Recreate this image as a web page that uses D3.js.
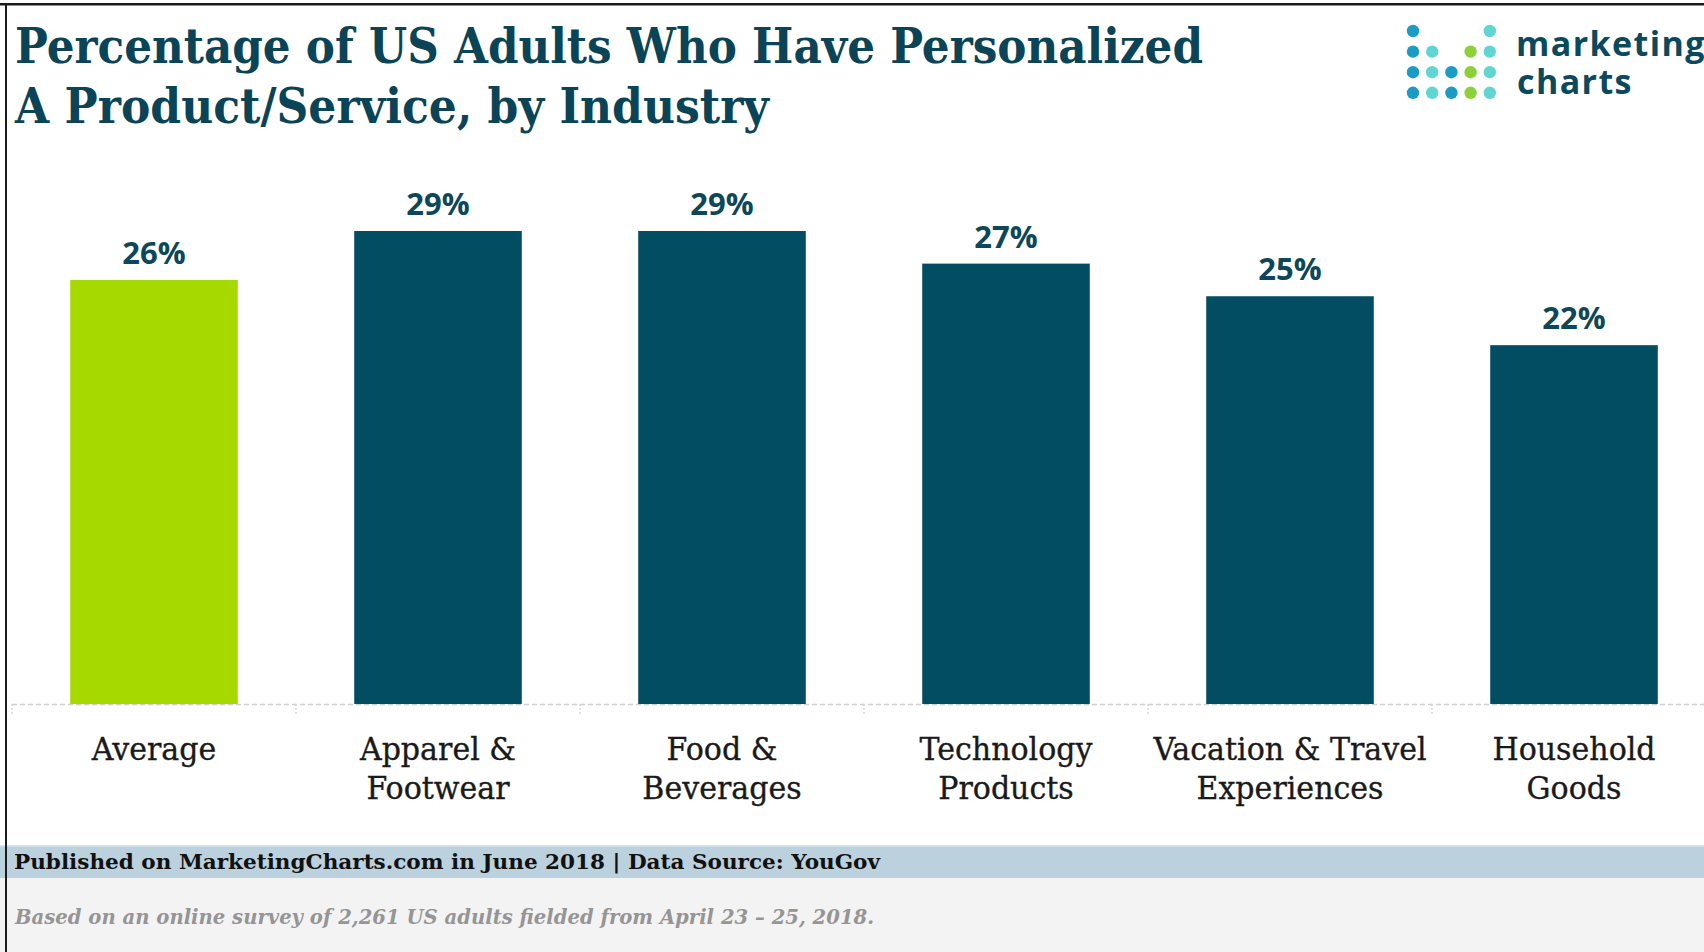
<!DOCTYPE html>
<html>
<head>
<meta charset="utf-8">
<script src="https://cdn.jsdelivr.net/npm/d3@7"></script>
<style>
  html, body { margin: 0; padding: 0; background: #fff; }
  svg { display: block; }
</style>
</head>
<body>
<svg id="chart" width="1704" height="952"></svg>
<script>
// ---- data ----
const categories = ["Average", "Apparel & Footwear", "Food & Beverages",
  "Technology Products", "Vacation & Travel Experiences", "Household Goods"];
const labelLines = [["Average"], ["Apparel &", "Footwear"], ["Food &", "Beverages"],
  ["Technology", "Products"], ["Vacation & Travel", "Experiences"], ["Household", "Goods"]];
const values = [26, 29, 29, 27, 25, 22];
const valueLabels = ["26%", "29%", "29%", "27%", "25%", "22%"];
const titleLines = ["Percentage of US Adults Who Have Personalized", "A Product/Service, by Industry"];
const sourceNote = "Published on MarketingCharts.com in June 2018 | Data Source: YouGov";
const surveyNote = "Based on an online survey of 2,261 US adults fielded from April 23 \u2013 25, 2018.";
const logoWords = ["marketing", "charts"];
const logoDots = ["b...t", "bt.gt", "btbgt", "btbgt"];

// ---- layout ----
const W = 1704, H = 952;
const baseY = 704;
const svg = d3.select("#chart");

const x = d3.scaleBand()
  .domain(categories)
  .range([12, 1716])
  .paddingInner(0.41)
  .paddingOuter(0.205);

const y = d3.scaleLinear()
  .domain([0, 29])
  .range([baseY, 231]);

const rows = categories.map((c, i) => ({
  cat: c, value: values[i], label: valueLabels[i], lines: labelLines[i], avg: i === 0
}));

// footer panels
svg.append("rect").attr("x", 0).attr("y", 846).attr("width", W).attr("height", 32).attr("fill", "#bcd1de");
svg.append("rect").attr("x", 0).attr("y", 845).attr("width", W).attr("height", 1.5).attr("fill", "#dbe6ee");
svg.append("rect").attr("x", 0).attr("y", 878).attr("width", W).attr("height", H - 878).attr("fill", "#f3f3f3");

// title
const title = svg.append("g")
  .attr("font-family", "'DejaVu Serif', serif")
  .attr("font-weight", "bold")
  .attr("font-size", 49)
  .attr("fill", "#0b4456");
const titleWidths = [1188, 754];
const titleBase = [63, 123];
titleLines.forEach((t, i) => {
  title.append("text")
    .attr("x", 15).attr("y", titleBase[i])
    .attr("textLength", titleWidths[i])
    .attr("lengthAdjust", "spacingAndGlyphs")
    .text(t);
});

// logo
const dotColor = { b: "#1a9cc4", t: "#5fd6d2", g: "#8dd13a" };
const logo = svg.append("g");
logoDots.forEach((row, r) => {
  row.split("").forEach((ch, c) => {
    if (ch === ".") return;
    logo.append("circle")
      .attr("cx", 1413 + c * 19.2)
      .attr("cy", 31 + r * 20.6)
      .attr("r", 6.2)
      .attr("fill", dotColor[ch]);
  });
});
const logoText = logo.append("g")
  .attr("font-family", "'Open Sans', sans-serif")
  .attr("font-weight", 700)
  .attr("font-size", 34)
  .attr("fill", "#0b4a5c");
logoText.append("text").attr("x", 1516).attr("y", 56).attr("letter-spacing", 1.4).text(logoWords[0]);
logoText.append("text").attr("x", 1517).attr("y", 94).attr("letter-spacing", 1.4).text(logoWords[1]);

// baseline and band separators
svg.append("line")
  .attr("x1", 12).attr("x2", W)
  .attr("y1", baseY + 0.5).attr("y2", baseY + 0.5)
  .attr("stroke", "#cfcfcf").attr("stroke-width", 1.5)
  .attr("stroke-dasharray", "5,3");

const bounds = [x.range()[0]].concat(categories.map(c =>
  x(c) + x.bandwidth() + x.step() * x.paddingInner() / 2));
svg.selectAll(".sep").data(bounds).join("line")
  .attr("class", "sep")
  .attr("x1", d => d).attr("x2", d => d)
  .attr("y1", baseY).attr("y2", baseY + 12)
  .attr("stroke", "#d6d6d6").attr("stroke-width", 1.5)
  .attr("stroke-dasharray", "2,2");

// bars
svg.selectAll(".bar").data(rows).join("rect")
  .attr("class", "bar")
  .attr("x", d => x(d.cat))
  .attr("y", d => y(d.value))
  .attr("width", x.bandwidth())
  .attr("height", d => y(0) - y(d.value))
  .attr("fill", d => d.avg ? "#a6d900" : "#034d63");

// value labels
svg.selectAll(".val").data(rows).join("text")
  .attr("class", "val")
  .attr("x", d => x(d.cat) + x.bandwidth() / 2)
  .attr("y", d => y(d.value) - 16)
  .attr("text-anchor", "middle")
  .attr("font-family", "'Open Sans', sans-serif")
  .attr("font-weight", 700)
  .attr("font-size", 31)
  .attr("fill", "#0d4759")
  .text(d => d.label);

// category axis
const axis = svg.append("g")
  .attr("transform", `translate(0,${baseY})`)
  .call(d3.axisBottom(x).tickSize(0).tickSizeOuter(0).tickPadding(0));
axis.select(".domain").remove();
axis.selectAll(".tick text")
  .attr("y", null).attr("dy", null)
  .attr("font-family", "'DejaVu Serif', serif")
  .attr("font-size", 31)
  .attr("fill", "#1a1a1a")
  .attr("stroke", "#1a1a1a")
  .attr("stroke-width", 0.35)
  .attr("transform", "scale(0.97,1)")
  .each(function (d) {
    const lines = labelLines[categories.indexOf(d)];
    const t = d3.select(this).text(null);
    lines.forEach((ln, k) => {
      t.append("tspan").attr("x", 0).attr("y", 56 + k * 39).text(ln);
    });
  });

// footer text
svg.append("text")
  .attr("x", 14).attr("y", 869)
  .attr("font-family", "'DejaVu Serif', serif")
  .attr("font-weight", "bold")
  .attr("font-size", 20)
  .attr("fill", "#111")
  .attr("textLength", 866)
  .attr("lengthAdjust", "spacingAndGlyphs")
  .text(sourceNote);

svg.append("text")
  .attr("x", 15).attr("y", 924)
  .attr("font-family", "'DejaVu Serif', serif")
  .attr("font-style", "italic")
  .attr("font-weight", "bold")
  .attr("font-size", 20)
  .attr("fill", "#959595")
  .attr("textLength", 859)
  .attr("lengthAdjust", "spacingAndGlyphs")
  .text(surveyNote);

// frame edges
svg.append("rect").attr("x", 0).attr("y", 3).attr("width", W).attr("height", 2.5).attr("fill", "#1c1c1c");
svg.append("rect").attr("x", 5).attr("y", 3).attr("width", 2).attr("height", H - 3).attr("fill", "#1c1c1c");
</script>
</body>
</html>
